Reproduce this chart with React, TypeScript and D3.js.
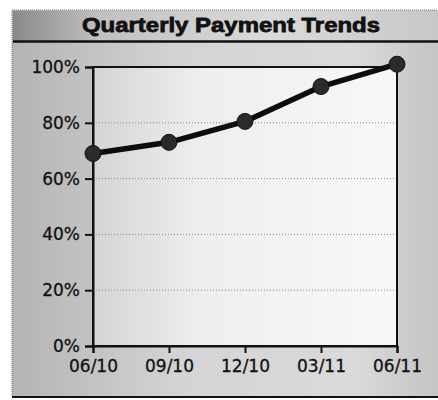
import React, { useEffect, useRef } from 'react';
import * as d3 from 'd3';

const categories = ['06/10', '09/10', '12/10', '03/11', '06/11'];
const paymentPct = [69, 73, 80.5, 93, 101];
const yTicks = [0, 20, 40, 60, 80, 100];
const chartTitle = 'Quarterly Payment Trends';

const App: React.FC = () => {
  const svgRef = useRef<SVGSVGElement | null>(null);

  useEffect(() => {
    const svg = d3.select(svgRef.current);
    svg.selectAll('*').remove();
    const width = 438;
    const height = 400;
    const plot = { left: 93, right: 397, top: 67, bottom: 346 };

    const defs = svg.append('defs');
    const grad = (id: string, stops: [number, string][]) => {
      const g = defs.append('linearGradient').attr('id', id).attr('x1', '0%').attr('x2', '100%').attr('y1', '0%').attr('y2', '0%');
      stops.forEach(([o, c]) => g.append('stop').attr('offset', `${o}%`).attr('stop-color', c));
    };
    grad('frameBg', [[0, '#b4b4b4'], [40, '#d4d4d4'], [80, '#dadada'], [100, '#c4c4c4']]);
    grad('titleBg', [[0, '#8a8a8a'], [20, '#c0c0c0'], [60, '#dadada'], [100, '#c8c8c8']]);
    grad('plotBg', [[0, '#d4d4d4'], [35, '#eeeeee'], [100, '#f8f8f8']]);

    // frame
    svg.append('rect').attr('width', width).attr('height', height).attr('fill', '#fff');
    svg.append('rect').attr('x', 12).attr('y', 10).attr('width', width - 11).attr('height', 387)
      .attr('fill', 'url(#frameBg)').attr('stroke', '#777').attr('stroke-dasharray', '1,1');
    svg.append('line').attr('x1', 12).attr('x2', width).attr('y1', 397).attr('y2', 397)
      .attr('stroke', '#111').attr('stroke-width', 2);

    // title bar
    svg.append('rect').attr('x', 13).attr('y', 11).attr('width', width - 13).attr('height', 30).attr('fill', 'url(#titleBg)');
    svg.append('line').attr('x1', 13).attr('x2', width).attr('y1', 41.5).attr('y2', 41.5)
      .attr('stroke', '#111').attr('stroke-width', 2.5);
    svg.append('text').attr('x', 231).attr('y', 32).attr('text-anchor', 'middle')
      .attr('font-family', 'Liberation Sans, Arial, sans-serif').attr('font-weight', 'bold')
      .attr('font-size', 21).attr('textLength', 298).attr('lengthAdjust', 'spacingAndGlyphs')
      .attr('fill', '#111').attr('stroke', '#111').attr('stroke-width', 0.8).text(chartTitle);

    const x = d3.scalePoint<string>().domain(categories).range([plot.left, plot.right]);
    const y = d3.scaleLinear().domain([0, 100]).range([plot.bottom, plot.top]);

    svg.append('rect').attr('x', plot.left).attr('y', plot.top)
      .attr('width', plot.right - plot.left).attr('height', plot.bottom - plot.top).attr('fill', 'url(#plotBg)');

    // gridlines
    svg.append('g').selectAll('line').data(yTicks.filter(t => t > 0 && t < 100)).enter().append('line')
      .attr('x1', plot.left).attr('x2', plot.right)
      .attr('y1', d => y(d)).attr('y2', d => y(d))
      .attr('stroke', '#888').attr('stroke-width', 1).attr('stroke-dasharray', '1,2');

    // box
    svg.append('rect').attr('x', plot.left).attr('y', plot.top)
      .attr('width', plot.right - plot.left).attr('height', plot.bottom - plot.top)
      .attr('fill', 'none').attr('stroke', '#111').attr('stroke-width', 2);

    const font = 'DejaVu Sans, Verdana, sans-serif';
    const yAxis = svg.append('g').attr('transform', `translate(${plot.left},0)`)
      .call(d3.axisLeft(y).tickValues(yTicks).tickFormat(d => `${d}%`).tickSize(8).tickPadding(5));
    const xAxis = svg.append('g').attr('transform', `translate(0,${plot.bottom})`)
      .call(d3.axisBottom(x).tickSize(7).tickPadding(7));
    [yAxis, xAxis].forEach(a => {
      a.select('.domain').attr('stroke', '#111').attr('stroke-width', 2);
      a.selectAll('.tick line').attr('stroke', '#111').attr('stroke-width', 2);
      a.selectAll('.tick text').attr('font-family', font).attr('font-size', 17).attr('fill', '#111')
        .attr('stroke', '#111').attr('stroke-width', 0.3);
    });

    const line = d3.line<number>().x((_, i) => x(categories[i])!).y(d => y(d));
    svg.append('path').datum(paymentPct).attr('d', line)
      .attr('fill', 'none').attr('stroke', '#0d0d0d').attr('stroke-width', 5.5).attr('stroke-linejoin', 'round');

    svg.append('g').selectAll('circle').data(paymentPct).enter().append('circle')
      .attr('cx', (_, i) => x(categories[i])!).attr('cy', d => y(d)).attr('r', 8)
      .attr('fill', '#2a2a2a').attr('stroke', '#111').attr('stroke-width', 1);
  }, []);

  return (
    <div>
      <svg ref={svgRef} width={438} height={400} style={{ position: 'absolute', left: 0, top: 0 }}></svg>
    </div>
  );
};

export default App;
